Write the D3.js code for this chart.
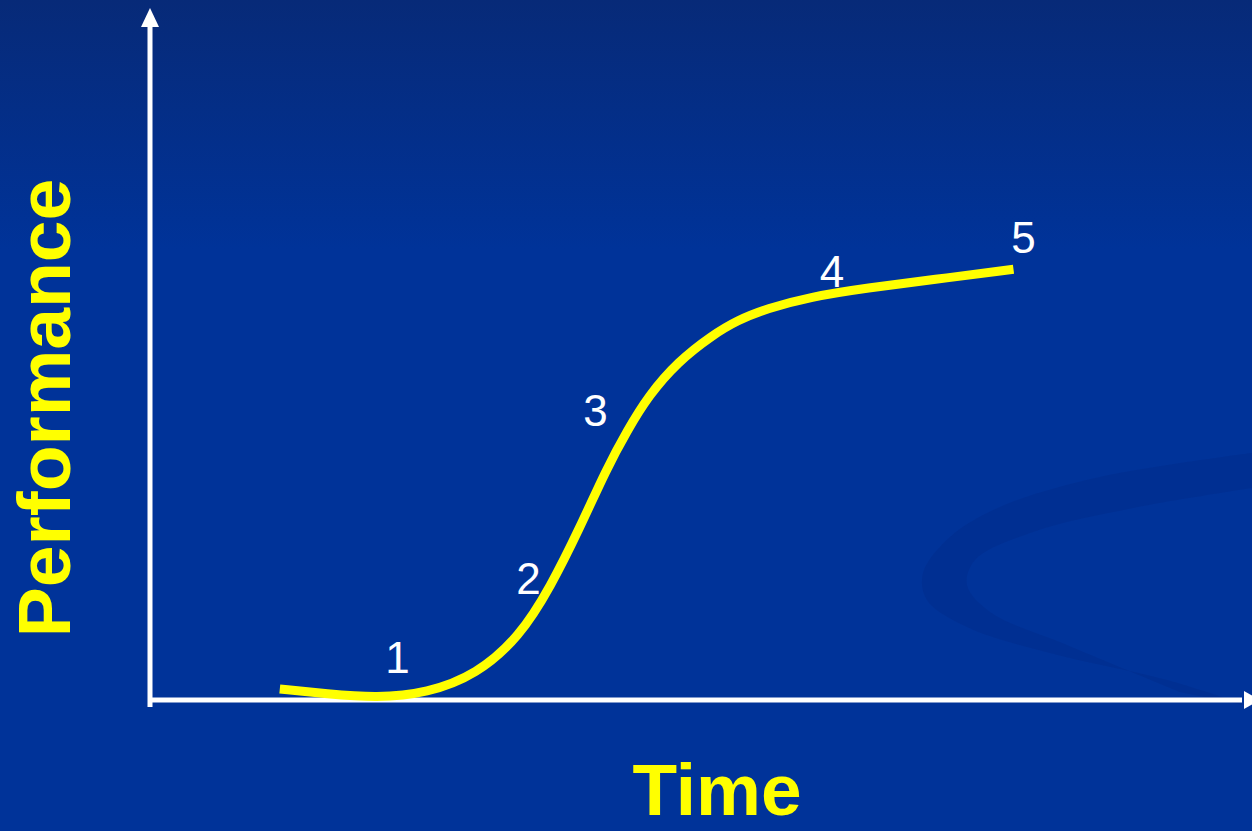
<!DOCTYPE html>
<html>
<head>
<meta charset="utf-8">
<script src="https://cdn.jsdelivr.net/npm/d3@7"></script>
<style>
  html, body { margin: 0; padding: 0; background: #003399; overflow: hidden; }
  svg { display: block; }
</style>
</head>
<body>
<div id="chart"></div>
<script>
// time (0-100) along the x axis
const curveTime = [11.8, 16.1, 20.6, 25.2, 29.7, 33.6, 36.4, 39.1, 41.5, 43.4, 45.3, 48.0, 51.1, 53.4, 56.1, 60.0, 65.2, 71.2, 78.5];
// performance (0-100) along the y axis
const curvePerf = [1.6, 0.9, 0.3, 1.0, 3.7, 9.2, 16.4, 25.1, 33.6, 39.2, 44.2, 49.2, 53.0, 55.2, 56.9, 58.6, 59.9, 61.1, 62.6];

// stage labels and where they sit
const stageLabels = ["1", "2", "3", "4", "5"];
const stageTime = [22.5, 34.4, 40.5, 62.0, 79.4];
const stagePerf = [3.9, 15.4, 39.8, 60.0, 65.0];

const xLabel = "Time";
const yLabel = "Performance";

const width = 1252;
const height = 831;
const margin = { top: 12, right: 2, bottom: 131, left: 150 };

const svg = d3.select("#chart").append("svg")
  .attr("width", width)
  .attr("height", height);

// background gradient
const defs = svg.append("defs");
const grad = defs.append("linearGradient")
  .attr("id", "bg")
  .attr("x1", 0).attr("y1", 0).attr("x2", 0).attr("y2", 1);
grad.append("stop").attr("offset", "0%").attr("stop-color", "#072a78");
grad.append("stop").attr("offset", "30%").attr("stop-color", "#003399");
grad.append("stop").attr("offset", "100%").attr("stop-color", "#003399");

svg.append("rect")
  .attr("width", width)
  .attr("height", height)
  .attr("fill", "url(#bg)");

// decorative swoosh (background only)
const swooshOuter = [[1252, 453], [1100, 477], [1000, 507], [950, 537], [923, 573], [927, 600], [967, 627], [1050, 653], [1167, 680], [1252, 707]];
const swooshInner = [[1180, 692], [1067, 645], [990, 612], [967, 585], [975, 560], [1033, 532], [1133, 508], [1252, 488]];
const swooshLine = d3.line().curve(d3.curveCatmullRom.alpha(0.5));
svg.append("path")
  .attr("d", swooshLine(swooshOuter) + "L" + swooshLine(swooshInner).slice(1) + "Z")
  .attr("fill", "#002a86")
  .attr("opacity", 0.4);

// scales
const xScale = d3.scaleLinear()
  .domain([0, 100])
  .range([margin.left, 1250]);

const yScale = d3.scaleLinear()
  .domain([0, 100])
  .range([height - margin.bottom, margin.top]);

const x0 = xScale(0);
const y0 = yScale(0);

// axes
svg.append("line")
  .attr("x1", x0).attr("x2", x0)
  .attr("y1", 24).attr("y2", y0 + 7)
  .attr("stroke", "#ffffff")
  .attr("stroke-width", 5);

svg.append("path")
  .attr("d", `M${x0},8L${x0 + 9},27L${x0 - 9},27Z`)
  .attr("fill", "#ffffff");

svg.append("line")
  .attr("x1", x0 - 2).attr("x2", width - 10)
  .attr("y1", y0).attr("y2", y0)
  .attr("stroke", "#ffffff")
  .attr("stroke-width", 5);

svg.append("path")
  .attr("d", `M${width - 8},${y0 - 9}L${width + 8},${y0}L${width - 8},${y0 + 9}Z`)
  .attr("fill", "#ffffff");

// the curve
const curveData = curveTime.map((t, i) => ({ t: t, p: curvePerf[i] }));

const lineGenerator = d3.line()
  .x(d => xScale(d.t))
  .y(d => yScale(d.p))
  .curve(d3.curveBasis);

svg.append("path")
  .datum(curveData)
  .attr("d", lineGenerator)
  .attr("fill", "none")
  .attr("stroke", "#ffff00")
  .attr("stroke-width", 9)
  .attr("stroke-linecap", "butt");

// stage numbers
svg.selectAll(".stage")
  .data(stageLabels)
  .join("text")
  .classed("stage", true)
  .attr("x", (d, i) => xScale(stageTime[i]))
  .attr("y", (d, i) => yScale(stagePerf[i]))
  .attr("text-anchor", "middle")
  .attr("font-family", "Liberation Sans, Arial, sans-serif")
  .attr("font-size", 44)
  .attr("fill", "#ffffff")
  .text(d => d);

// axis labels
svg.append("text")
  .text(xLabel)
  .attr("x", 717)
  .attr("y", 815)
  .attr("text-anchor", "middle")
  .attr("font-family", "Liberation Sans, Arial, sans-serif")
  .attr("font-weight", "bold")
  .attr("font-size", 73)
  .attr("fill", "#ffff00");

svg.append("text")
  .text(yLabel)
  .attr("text-anchor", "middle")
  .attr("font-family", "Liberation Sans, Arial, sans-serif")
  .attr("font-weight", "bold")
  .attr("font-size", 75)
  .attr("fill", "#ffff00")
  .attr("transform", "translate(70, 408)rotate(-90)");
</script>
</body>
</html>
